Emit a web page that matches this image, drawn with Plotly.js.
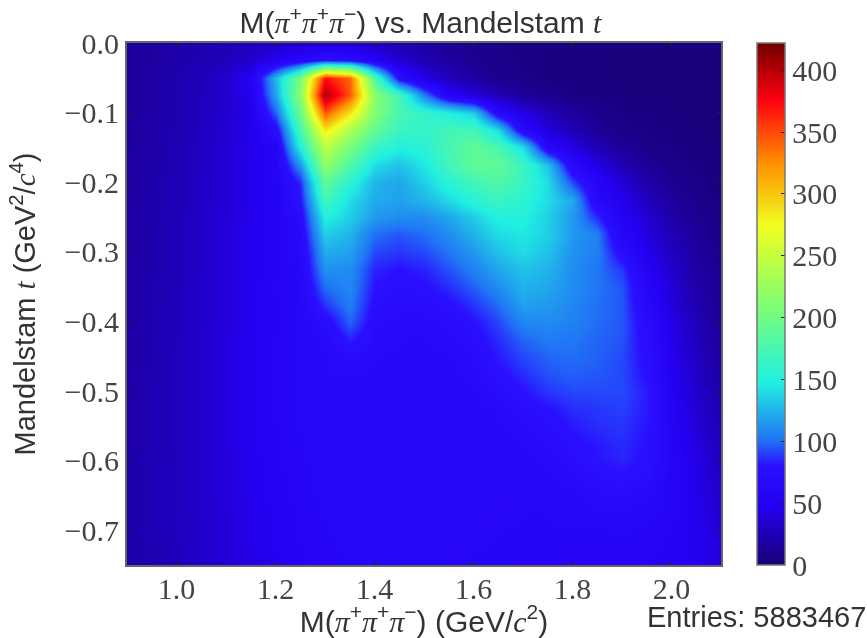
<!DOCTYPE html>
<html><head><meta charset="utf-8">
<script src="https://cdn.plot.ly/plotly-3.0.1.min.js"></script>
<style>html,body{margin:0;padding:0;background:#fff}#c{width:867px;height:638px;filter:blur(0.6px)}</style>
</head><body><div id="c"></div>
<script>
const massBins=[0.90,0.95,1.00,1.05,1.10,1.15,1.20,1.25,1.30,1.35,1.40,1.45,1.50,1.55,1.60,1.65,1.70,1.75,1.80,1.85,1.90,1.95,2.00,2.05,2.10];
const tBins=[0,-0.025,-0.05,-0.075,-0.1,-0.125,-0.15,-0.175,-0.2,-0.225,-0.25,-0.275,-0.3,-0.325,-0.35,-0.375,-0.4,-0.425,-0.45,-0.475,-0.5,-0.525,-0.55,-0.575,-0.6,-0.625,-0.65,-0.675,-0.7,-0.725,-0.75];
const counts=[
[14,15,18,21,24,27,30,32,34,33,28,22,16,12,9,7,6,5,4,4,3,3,3,3,3],
[15,17,20,23,27,33,48,62,78,72,52,34,24,16,11,8,6,5,4,4,3,3,3,3,3],
[15,18,22,26,32,52,128,205,370,340,175,72,42,26,16,10,7,5,4,4,3,3,3,3,3],
[15,18,22,27,33,48,120,215,405,345,215,170,105,55,38,24,14,9,6,5,4,3,3,3,3],
[15,18,23,28,34,44,98,195,345,285,210,175,160,150,135,65,42,26,15,9,6,5,4,3,3],
[15,19,23,28,35,44,72,170,285,235,190,165,160,170,170,140,62,40,24,13,8,6,4,4,3],
[16,19,24,29,36,44,56,150,245,205,165,150,155,175,190,175,140,60,42,24,13,8,6,4,3],
[16,20,24,30,37,45,54,112,220,180,140,130,145,170,190,190,165,130,62,42,24,13,8,5,4],
[16,20,25,30,37,45,53,85,190,155,125,120,135,155,170,180,165,140,90,56,36,20,11,7,4],
[17,20,25,30,37,45,53,78,170,140,122,118,125,140,155,165,155,140,120,62,45,28,15,9,5],
[17,21,25,31,38,45,53,70,150,135,115,110,110,120,135,150,150,135,115,85,52,35,19,11,6],
[17,21,26,31,38,46,53,66,135,125,100,95,100,110,125,140,145,135,115,105,58,40,24,13,7],
[17,21,26,31,38,46,53,63,122,118,92,88,92,102,115,130,140,130,112,105,72,45,28,16,8],
[17,21,26,32,38,46,53,62,112,110,84,80,84,94,106,120,130,125,110,102,88,52,32,18,9],
[18,22,26,32,39,46,54,61,100,108,80,76,78,86,97,110,125,120,110,102,94,58,36,20,10],
[18,22,27,32,39,47,54,60,88,105,76,72,72,78,88,100,118,115,108,100,95,64,38,22,11],
[18,22,27,32,39,47,54,60,72,98,72,68,68,72,80,92,108,110,106,100,95,70,42,25,13],
[18,22,27,33,40,47,54,60,66,84,68,66,65,68,74,86,98,104,102,98,94,73,44,27,14],
[18,22,27,33,40,47,55,60,65,72,66,65,64,65,70,82,92,98,100,97,92,76,46,29,16],
[19,23,28,33,40,48,55,60,65,66,65,64,63,64,68,78,86,94,97,95,92,78,48,31,18],
[19,23,28,33,40,48,55,60,65,66,65,64,63,63,64,72,80,88,92,92,92,82,50,33,20],
[19,23,28,33,40,48,55,60,64,66,65,64,63,63,63,66,74,80,86,88,90,82,52,35,22],
[19,23,28,33,40,47,54,60,64,65,65,64,63,62,62,64,68,74,82,86,88,80,54,37,24],
[19,23,28,33,40,47,54,59,63,65,65,64,63,62,62,62,65,70,78,82,86,79,55,40,26],
[20,24,28,33,39,46,53,58,63,65,65,64,63,62,62,62,63,66,74,80,84,78,56,42,28],
[20,24,28,33,39,46,52,57,62,64,65,64,63,62,62,62,62,63,68,74,78,72,56,44,30],
[20,24,28,33,39,45,51,56,61,64,64,64,63,62,62,61,61,61,64,68,70,66,55,45,32],
[20,24,28,33,38,44,50,55,60,63,64,64,63,62,61,61,60,60,62,64,65,62,55,46,34],
[20,24,28,32,38,44,50,55,59,62,63,63,62,62,61,60,60,60,59,59,60,58,54,47,36],
[20,23,27,32,37,43,49,54,58,61,63,63,62,61,60,60,59,59,58,58,58,56,53,47,38],
[20,23,27,32,37,42,48,53,57,60,62,62,62,61,60,59,58,58,57,57,56,54,52,47,38]
];
const xTicks=[1.0,1.2,1.4,1.6,1.8,2.0];
const yTicks=[0,-0.1,-0.2,-0.3,-0.4,-0.5,-0.6,-0.7];
const barTicks=[0,50,100,150,200,250,300,350,400];
const palette=[[0,'#1a0075'],[0.11,'#2400f0'],[0.19,'#2a10ff'],[0.24,'#2075f5'],[0.35,'#20f0e0'],[0.5,'#80ff70'],[0.65,'#f0ff20'],[0.77,'#ff9000'],[0.89,'#ff0010'],[1,'#700000']];

const serif='"Liberation Serif",serif', sans='"Liberation Sans",Arial,sans-serif';
const it=s=>'<span style="font-family:\'Liberation Serif\'"><i>'+s+'</i></span>';
const pi=it('π');
const axisBase={showgrid:false,zeroline:false,showline:true,linecolor:'#666',linewidth:2,mirror:'ticks',ticks:'inside',ticklen:4,tickcolor:'#222',tickfont:{family:serif,size:30,color:'#444'}};
Plotly.newPlot('c',[{
  type:'heatmap',x:massBins,y:tBins,z:counts,zmin:0,zmax:422,zsmooth:'best',colorscale:palette,
  colorbar:{x:1.0606,xanchor:'left',xref:'paper',y:0,yanchor:'bottom',yref:'paper',len:1,lenmode:'fraction',thickness:28,thicknessmode:'pixels',xpad:0,ypad:0,
    tickmode:'array',tickvals:barTicks,ticks:'inside',ticklen:4,tickcolor:'#222',ticklabelstandoff:-3,tickfont:{family:serif,size:30,color:'#444'},outlinecolor:'#777',outlinewidth:1.5}
}],{
  width:867,height:638,margin:{l:127,r:146,t:43,b:73},paper_bgcolor:'#fff',plot_bgcolor:'#fff',
  title:{text:'M('+pi+'<sup>+</sup>'+pi+'<sup>+</sup>'+pi+'<sup>−</sup>) vs. Mandelstam '+it('t'),font:{family:sans,size:30,color:'#333'},x:0.494,xref:'paper',xanchor:'center',y:0.964,yanchor:'middle'},
  xaxis:Object.assign({},axisBase,{range:[0.9,2.1],tickmode:'array',tickvals:xTicks,ticktext:['1.0','1.2','1.4','1.6','1.8','2.0'],ticklabelstandoff:-4,title:{text:'M('+pi+'<sup>+</sup>'+pi+'<sup>+</sup>'+pi+'<sup>−</sup>) (GeV/'+it('c')+'<sup>2</sup>)',font:{family:sans,size:30,color:'#333'},standoff:0}}),
  yaxis:Object.assign({},axisBase,{range:[-0.75,0],tickmode:'array',tickvals:yTicks,ticktext:['0.0','−0.1','−0.2','−0.3','−0.4','−0.5','−0.6','−0.7'],title:{text:'Mandelstam '+it('t')+' (GeV<sup>2</sup>/'+it('c')+'<sup>4</sup>)',font:{family:sans,size:29,color:'#333'},standoff:20}}),
  annotations:[{xref:'paper',yref:'paper',x:1.248,y:-0.0996,xanchor:'right',yanchor:'middle',showarrow:false,text:'Entries: 5883467',font:{family:sans,size:29,color:'#333'}}]
},{displayModeBar:false,staticPlot:true});
</script></body></html>
